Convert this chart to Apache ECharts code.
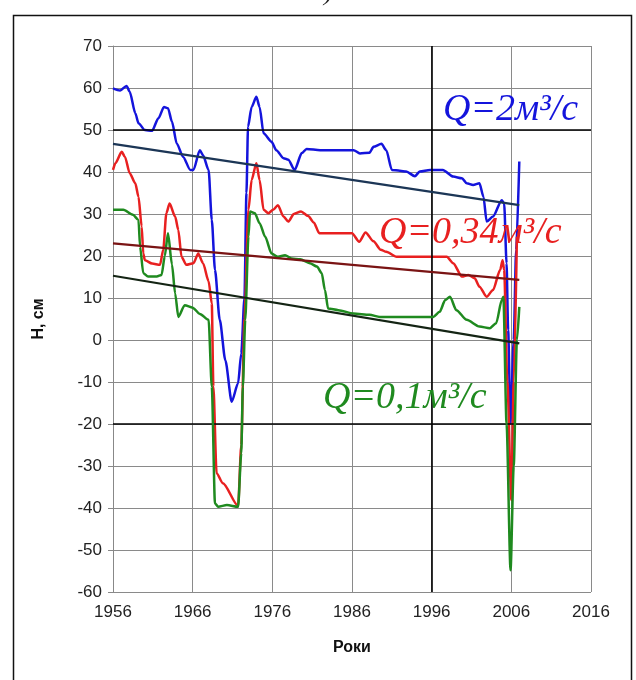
<!DOCTYPE html>
<html>
<head>
<meta charset="utf-8">
<script src="https://cdn.jsdelivr.net/npm/echarts@6/dist/echarts.min.js"></script>
<style>
html,body{margin:0;padding:0;background:#fff;}
#chart{width:636px;height:680px;}
</style>
</head>
<body>
<div id="chart"></div>
<script>
// ---- data ----
const blueYears = [1956.0,1956.9,1957.7,1958.1,1958.8,1959.2,1960.0,1960.9,1961.7,1962.4,1962.9,1963.4,1964.0,1964.8,1965.7,1966.1,1966.9,1967.3,1968.0,1968.4,1968.8,1969.4,1970.1,1970.9,1971.7,1972.1,1972.5,1972.75,1972.95,1973.4,1974.0,1974.4,1974.9,1975.9,1976.5,1977.4,1978.0,1978.8,1979.7,1980.3,1982.0,1986.2,1987.0,1988.2,1988.7,1989.7,1990.3,1991.0,1992.0,1992.8,1993.9,1994.5,1995.8,1997.4,1998.7,1999.8,2000.4,2001.2,2002.0,2002.5,2002.9,2003.7,2004.8,2005.1,2005.4,2005.6,2005.9,2006.3,2006.6,2007.0];
const blueValues = [59.9,59.4,60.5,59.1,54,51.6,50,49.8,52.8,55.5,55.2,52,46.8,43.6,40.5,40.5,45.2,44,40.5,28.6,16.7,4.8,-4.8,-14.7,-10.3,-3.2,10,35,50.8,55.5,57.9,55.5,49.2,47.2,45.2,43.3,42.9,40.5,44.5,45.5,45.2,45.2,44.4,44.6,46,46.7,45.2,40.5,40.3,40.1,39,40.1,40.5,40.5,38.9,38.5,37.3,36.9,37.3,34.1,28.2,29.4,33.3,32.5,18.3,2.4,-19.8,0,21.4,42.5];

const redYears = [1956.0,1956.3,1957.1,1957.5,1958.1,1958.8,1959.2,1959.6,1959.8,1960.0,1960.9,1961.9,1962.3,1962.7,1963.1,1963.8,1964.2,1964.6,1965.2,1966.1,1966.7,1967.3,1968.0,1968.4,1968.6,1969.0,1969.8,1971.7,1972.1,1972.5,1973.0,1973.4,1974.0,1974.4,1974.9,1975.5,1976.1,1976.7,1977.4,1978.0,1978.7,1979.6,1980.5,1981.2,1981.9,1986.0,1986.9,1987.7,1988.7,1989.6,1990.3,1991.6,1997.9,1998.7,1999.8,2000.6,2001.4,2002.0,2002.9,2003.7,2004.6,2004.9,2005.1,2005.5,2006.0,2006.3,2006.7];
const redValues = [40.5,42.1,44.8,43.6,39.7,37.3,34.1,27,20.6,19,18.2,17.9,21.4,30.2,32.5,29.4,26.2,19.8,17.9,18.3,20.6,18.3,14,8.7,-11.1,-31.7,-34.1,-39.5,-25,5,31,38.1,42.1,38.1,31,30.2,31,32.1,29.4,28.2,30,30.6,29.5,28,25.4,25.4,23.4,25.6,23.5,21.5,21,19.8,19.8,18.3,15.1,15.5,14.7,12.7,10.3,11.9,16.7,19,16.7,-10,-38.1,-10,24.6];

const greenYears = [1956.0,1957.3,1958.5,1959.2,1959.4,1959.8,1960.4,1961.5,1962.1,1962.5,1962.9,1963.4,1963.8,1964.2,1965.0,1966.0,1966.9,1968.0,1968.4,1968.8,1969.2,1970.3,1971.7,1972.1,1972.3,1972.6,1973.0,1973.2,1973.8,1974.4,1975.1,1975.9,1976.7,1977.6,1978.4,1979.5,1980.7,1981.6,1982.2,1982.6,1983.0,1984.3,1986.2,1988.2,1989.5,1996.2,1997.0,1997.7,1998.3,1999.1,2000.4,2002.0,2003.3,2004.1,2004.8,2005.0,2005.4,2005.9,2006.3,2006.7,2007.0];
const greenValues = [31,31,29.8,28.6,22.2,15.9,15.1,15.1,15.5,20,25.4,18,11.1,5.5,8.3,7.7,6.2,4.8,-11.1,-38.9,-39.7,-39.3,-39.7,-27,-11.1,4.8,24.6,30.6,30.2,27.8,24.6,20.6,19.8,20.2,19.4,19.2,18.3,17.5,15.9,11.9,7.5,7.1,6.3,6,5.5,5.5,6.7,9.5,10.3,7.1,4.8,3.2,2.8,4,9.5,10.3,-20,-54.8,-30,0,7.9];

const trendYears = [1956, 2007];
const blueTrend = [46.7, 32.1];
const redTrend = [23.0, 14.3];
const greenTrend = [15.3, -0.8];

const yName = 'Н, см';
const xName = 'Роки';
const labels = ['Q=2м³/с', 'Q=0,34м³/с', 'Q=0,1м³/с'];

function pairs(xs, ys) { return xs.map((x, i) => [x, ys[i]]); }

const chart = echarts.init(document.getElementById('chart'));
const lineW = 2.5;
const darkLines = {
  silent: true, symbol: 'none', label: {show: false},
  lineStyle: {color: '#000', width: 1.6, type: 'solid'},
  data: [{yAxis: 50}, {yAxis: -20}, {xAxis: 1996}]
};
const labelFont = 'italic 38px "Liberation Serif"';

chart.setOption({
  animation: false,
  backgroundColor: '#fff',
  grid: {left: 113, right: 45, top: 46, bottom: 88},
  xAxis: {
    type: 'value', min: 1956, max: 2016, interval: 10,
    name: xName, nameLocation: 'middle', nameGap: 48,
    nameTextStyle: {fontFamily: 'Liberation Sans', fontWeight: 'bold', fontSize: 16, color: '#111'},
    axisLine: {show: true, lineStyle: {color: '#888', width: 1}},
    axisTick: {show: true, inside: false, length: 5, lineStyle: {color: '#888'}},
    axisLabel: {fontFamily: 'Liberation Sans', fontSize: 17, color: '#222', margin: 12, formatter: v => String(v)},
    splitLine: {show: true, lineStyle: {color: '#8a8a8a', width: 1}}
  },
  yAxis: {
    type: 'value', min: -60, max: 70, interval: 10,
    name: yName, nameLocation: 'middle', nameGap: 66, nameRotate: 90,
    nameTextStyle: {fontFamily: 'Liberation Sans', fontWeight: 'bold', fontSize: 16, color: '#111'},
    axisLine: {show: true, onZero: false, lineStyle: {color: '#888', width: 1}},
    axisTick: {show: true, inside: false, length: 5, lineStyle: {color: '#888'}},
    axisLabel: {fontFamily: 'Liberation Sans', fontSize: 17, color: '#222', margin: 11},
    splitLine: {show: true, lineStyle: {color: '#8a8a8a', width: 1}}
  },
  series: [
    {type: 'line', name: 'grid', data: [], markLine: darkLines, z: 1},
    {type: 'line', name: 'blue', data: pairs(blueYears, blueValues), showSymbol: false, smooth: 0.25, smoothMonotone: 'x',
     lineStyle: {color: '#1414dc', width: lineW}, z: 3},
    {type: 'line', name: 'red', data: pairs(redYears, redValues), showSymbol: false, smooth: 0.25, smoothMonotone: 'x',
     lineStyle: {color: '#e82020', width: lineW}, z: 4},
    {type: 'line', name: 'green', data: pairs(greenYears, greenValues), showSymbol: false, smooth: 0.25, smoothMonotone: 'x',
     lineStyle: {color: '#1f8a1f', width: lineW}, z: 5},
    {type: 'line', name: 'blueTrend', data: pairs(trendYears, blueTrend), showSymbol: false,
     lineStyle: {color: '#1c3656', width: 2.2}, z: 6},
    {type: 'line', name: 'redTrend', data: pairs(trendYears, redTrend), showSymbol: false,
     lineStyle: {color: '#7a1414', width: 2.2}, z: 6},
    {type: 'line', name: 'greenTrend', data: pairs(trendYears, greenTrend), showSymbol: false,
     lineStyle: {color: '#142414', width: 2.2}, z: 6}
  ],
  graphic: [
    {type: 'rect', shape: {x: 13.5, y: 15.5, width: 618, height: 700}, style: {fill: 'none', stroke: '#111', lineWidth: 1.5}, z: 0, silent: true},
    {type: 'text', left: 311, top: -20, style: {text: 'а)', font: 'italic 26px "Liberation Serif"', fill: '#222'}},
    {type: 'text', x: 443, y: 110, style: {text: labels[0], font: labelFont, fill: '#1414dc', textVerticalAlign: 'middle', textBaseline: 'middle'}, z: 10},
    {type: 'text', x: 379, y: 233, style: {text: labels[1], font: labelFont, fill: '#e82020', textVerticalAlign: 'middle', textBaseline: 'middle'}, z: 10},
    {type: 'text', x: 323, y: 398, style: {text: labels[2], font: labelFont, fill: '#1f8a1f', textVerticalAlign: 'middle', textBaseline: 'middle'}, z: 10}
  ]
});
</script>
</body>
</html>
